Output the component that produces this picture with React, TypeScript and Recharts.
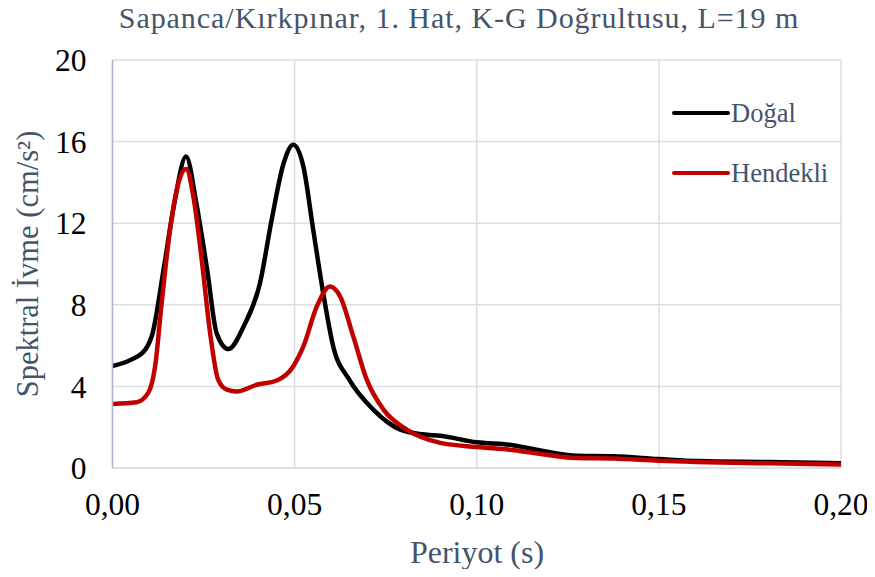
import { LineChart, Line, XAxis, YAxis, CartesianGrid } from "recharts";

const title = "Sapanca/Kırkpınar, 1. Hat, K-G Doğrultusu, L=19 m";
const xTicks = [0, 0.05, 0.1, 0.15, 0.2];
const yTicks = [0, 4, 8, 12, 16, 20];

// Doğal (natural ground)
const dogalPeriod = [0, 0.005, 0.009, 0.011, 0.014, 0.017, 0.0202, 0.023, 0.026, 0.0286, 0.0318, 0.036, 0.0405, 0.0437, 0.047, 0.0496, 0.0524, 0.0551, 0.058, 0.0606, 0.065, 0.0716, 0.079, 0.0853, 0.09, 0.1, 0.109, 0.1175, 0.1275, 0.1375, 0.15, 0.161, 0.18, 0.2];
const dogalAccel = [5.0, 5.3, 5.8, 6.6, 9.7, 13.0, 15.27, 13.0, 9.7, 6.6, 5.83, 6.94, 9.07, 12.17, 14.95, 15.85, 14.78, 11.68, 8.41, 5.96, 4.33, 2.86, 1.88, 1.65, 1.58, 1.26, 1.14, 0.86, 0.6, 0.57, 0.44, 0.34, 0.29, 0.23];

// Hendekli (with trench)
const hendekliPeriod = [0, 0.0066, 0.0098, 0.0117, 0.0135, 0.0158, 0.0181, 0.0202, 0.0222, 0.0245, 0.0268, 0.029, 0.0314, 0.0341, 0.0396, 0.0451, 0.0496, 0.0524, 0.0561, 0.0597, 0.0625, 0.0661, 0.0698, 0.0744, 0.0808, 0.09, 0.1, 0.109, 0.1275, 0.1375, 0.15, 0.18, 0.2];
const hendekliAccel = [3.14, 3.22, 3.68, 4.98, 8.09, 11.68, 13.97, 14.66, 13.31, 10.2, 6.62, 4.33, 3.84, 3.75, 4.08, 4.29, 4.98, 5.96, 7.92, 8.9, 8.41, 6.45, 4.33, 2.86, 1.88, 1.23, 1.03, 0.9, 0.49, 0.46, 0.36, 0.23, 0.17];

const dogalData = dogalPeriod.map((x, i) => ({ x, y: dogalAccel[i] }));
const hendekliData = hendekliPeriod.map((x, i) => ({ x, y: hendekliAccel[i] }));

const series = [
    { name: "Doğal", color: "#000000", data: dogalData },
    { name: "Hendekli", color: "#C00000", data: hendekliData },
];

const textColor = "#44546A";
const font = "Liberation Serif, Times New Roman, serif";

function LegendBox() {
    return (
        <div style={{ position: "absolute", left: 672, top: 83, fontFamily: font }}>
            {series.map((s) => (
                <div key={s.name} style={{ display: "flex", alignItems: "center", height: 60 }}>
                    <svg width={58} height={8}>
                        <line x1={2} y1={4} x2={56} y2={4} stroke={s.color} strokeWidth={4} strokeLinecap="round" />
                    </svg>
                    <span style={{ color: textColor, fontSize: 26.5, marginLeft: 1 }}>{s.name}</span>
                </div>
            ))}
        </div>
    );
}

export default function App() {
    return (
        <div style={{ position: "relative", width: 875, height: 577, margin: -8, background: "#fff" }}>
            <svg width={875} height={44} style={{ position: "absolute", left: 0, top: 0 }}>
                <text
                    x={459}
                    y={28}
                    textAnchor="middle"
                    fill={textColor}
                    fontSize={30}
                    letterSpacing={0.95}
                    fontFamily={font}
                >
                    {title}
                </text>
            </svg>
            <LineChart width={875} height={577} margin={{ top: 60, right: 34, bottom: 0, left: 0 }}>
                <CartesianGrid stroke="#D9DEE6" strokeWidth={1.5} verticalValues={xTicks} horizontalValues={yTicks} />
                <XAxis
                    dataKey="x"
                    type="number"
                    domain={[0, 0.2]}
                    ticks={xTicks}
                    allowDataOverflow
                    height={109}
                    tickLine={false}
                    tickMargin={19}
                    axisLine={{ stroke: "#D9DEE6", strokeWidth: 1.5 }}
                    tick={{ fill: "#000", fontSize: 31.5, fontFamily: font }}
                    tickFormatter={(v: number) => v.toFixed(2).replace(".", ",")}
                    label={{
                        content: () => (
                            <text x={477} y={563} textAnchor="middle" fill={textColor} fontSize={32} fontFamily={font}>
                                Periyot (s)
                            </text>
                        ),
                    }}
                />
                <YAxis
                    type="number"
                    domain={[0, 20]}
                    ticks={yTicks}
                    width={112.5}
                    tickLine={false}
                    tickMargin={20}
                    axisLine={{ stroke: "#ADB9CA", strokeWidth: 1.5 }}
                    tick={{ fill: "#000", fontSize: 31.5, fontFamily: font }}
                    label={{
                        content: () => (
                            <text
                                x={38}
                                y={264}
                                transform="rotate(-90 38 264)"
                                textAnchor="middle"
                                fill={textColor}
                                fontSize={30.5}
                                fontFamily={font}
                            >
                                Spektral İvme (cm/s²)
                            </text>
                        ),
                    }}
                />
                {series.map((s) => (
                    <Line
                        key={s.name}
                        data={s.data}
                        dataKey="y"
                        name={s.name}
                        type="monotone"
                        stroke={s.color}
                        strokeWidth={4.5}
                        dot={false}
                        activeDot={false}
                        isAnimationActive={false}
                    />
                ))}
            </LineChart>
            <LegendBox />
        </div>
    );
}
